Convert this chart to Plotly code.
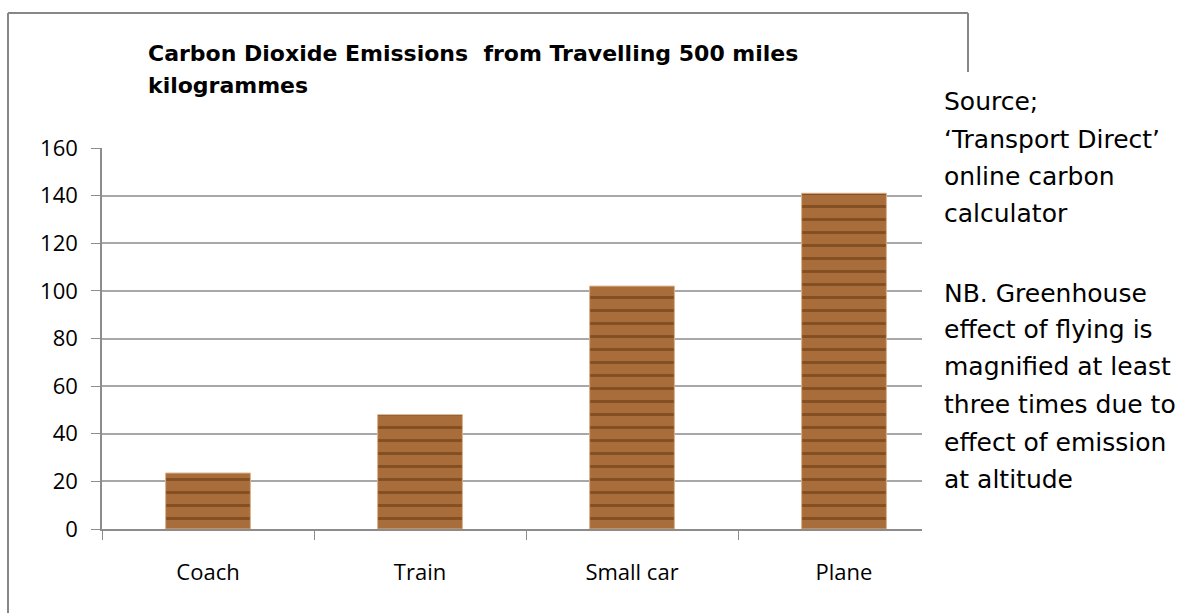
import plotly.graph_objects as go

categories = ["Coach", "Train", "Small car", "Plane"]
emissions_kg = [23.5, 48, 102, 141]
y_ticks = [0, 20, 40, 60, 80, 100, 120, 140, 160]
title_lines = ["Carbon Dioxide Emissions\u00a0 from Travelling 500 miles", "kilogrammes"]
note_lines = ["Source;", "\u2018Transport Direct\u2019", "online carbon", "calculator",
              "NB. Greenhouse", "effect of flying is", "magnified at least",
              "three times due to", "effect of emission", "at altitude"]

W, H = 1184, 613
X0, X1, YB, YT = 102, 950, 529, 148


def px(x):
    return (x - X0) / (X1 - X0)


def py(y):
    return (YB - y) / (YB - YT)


fig = go.Figure()
fig.add_trace(go.Bar(
    x=categories, y=emissions_kg, width=0.4,
    marker=dict(
        color="#a86d3a",
        line=dict(color="#d8b38a", width=1),
        pattern=dict(shape="-", fgcolor="#6a3912", bgcolor="#a86d3a",
                     size=13, solidity=0.22, fgopacity=0.6),
    ),
    hoverinfo="x+y",
))

shapes = [
    # chart frame
    dict(type="line", xref="paper", yref="paper", x0=px(8), x1=px(8), y0=py(13), y1=py(613),
         line=dict(color="#878787", width=2)),
    dict(type="line", xref="paper", yref="paper", x0=px(8), x1=px(968), y0=py(13), y1=py(13),
         line=dict(color="#878787", width=2)),
    dict(type="line", xref="paper", yref="paper", x0=px(968), x1=px(968), y0=py(13), y1=py(72),
         line=dict(color="#878787", width=2)),
    # white text box over the right side
    dict(type="rect", xref="paper", yref="paper", x0=px(922), x1=px(1184), y0=py(72), y1=py(613),
         fillcolor="white", line=dict(width=0), layer="above"),
]

annotations = []
title_baselines = [62, 93]
for t, b in zip(title_lines, title_baselines):
    annotations.append(dict(
        text="<b>" + t + "</b>", xref="paper", yref="paper", x=px(146), y=py(b - 8),
        xanchor="left", yanchor="middle", showarrow=False,
        font=dict(family="DejaVu Sans", size=22, color="#000000")))

note_baselines = [110, 148, 185, 222, 302, 338, 375, 413, 451, 488]
for t, b in zip(note_lines, note_baselines):
    annotations.append(dict(
        text=t, xref="paper", yref="paper", x=px(942), y=py(b - 9),
        xanchor="left", yanchor="middle", showarrow=False,
        font=dict(family="DejaVu Sans", size=25, color="#000000")))

fig.update_layout(
    width=W, height=H,
    margin=dict(l=X0, r=W - X1, t=YT, b=H - YB, pad=0),
    paper_bgcolor="white", plot_bgcolor="white",
    showlegend=False,
    shapes=shapes, annotations=annotations,
    font=dict(family="Open Sans", size=22, color="#000000"),
    bargap=0.6,
)
fig.update_xaxes(
    type="category", showline=True, linecolor="#8c8c8c", linewidth=1.5,
    ticks="outside", tickson="boundaries", ticklen=9, tickcolor="#8c8c8c", tickwidth=1.2,
    showgrid=False, ticklabelstandoff=23,
    tickfont=dict(family="Open Sans", size=22, color="#000000"),
)
fig.update_yaxes(
    range=[0, 160], tickvals=y_ticks, showline=True, linecolor="#8c8c8c", linewidth=1.5,
    ticks="outside", ticklen=9, tickcolor="#8c8c8c", tickwidth=1.2,
    showgrid=True, gridcolor="#a8a8a8", gridwidth=1.5, zeroline=False,
    ticklabelstandoff=9,
    tickfont=dict(family="Open Sans", size=22, color="#000000"),
)

fig.write_html("out.html", config={"displayModeBar": False},
               post_script="document.body.style.margin='0px';document.body.style.overflow='hidden';")
